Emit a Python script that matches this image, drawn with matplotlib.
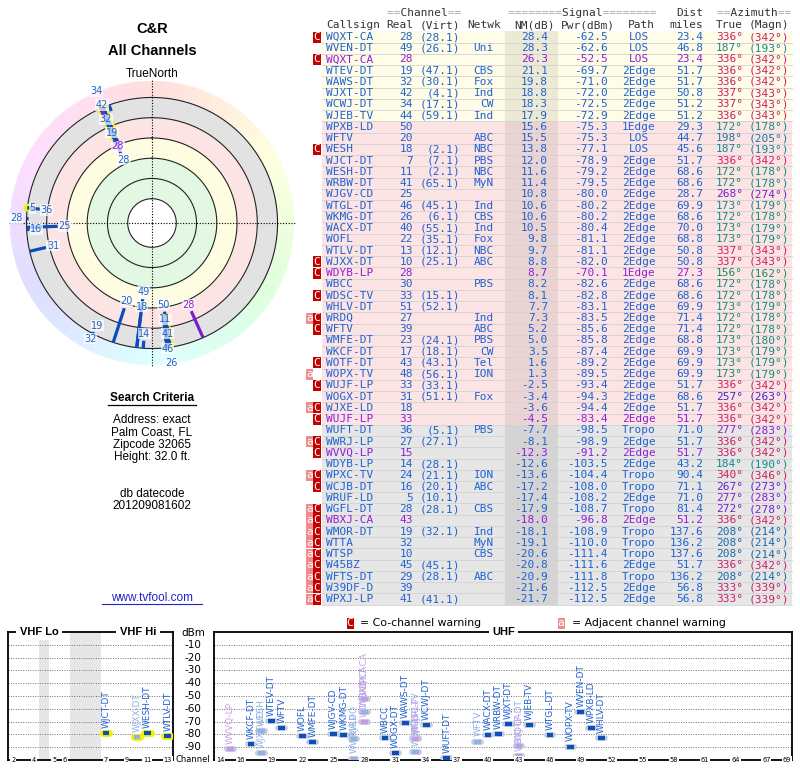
import colorsys

import numpy as np
import matplotlib

matplotlib.use("Agg")
import matplotlib.pyplot as plt
from matplotlib.patches import Rectangle

W, H = 800, 768

callsigns = ["WQXT-CA", "WVEN-DT", "WQXT-CA", "WTEV-DT", "WAWS-DT", "WJXT-DT", "WCWJ-DT", "WJEB-TV",
             "WPXB-LD", "WFTV", "WESH", "WJCT-DT", "WESH-DT", "WRBW-DT", "WJGV-CD", "WTGL-DT",
             "WKMG-DT", "WACX-DT", "WOFL", "WTLV-DT", "WJXX-DT", "WDYB-LP", "WBCC", "WDSC-TV",
             "WHLV-DT", "WRDQ", "WFTV", "WMFE-DT", "WKCF-DT", "WOTF-DT", "WOPX-TV", "WUJF-LP",
             "WOGX-DT", "WJXE-LD", "WUJF-LP", "WUFT-DT", "WWRJ-LP", "WVVQ-LP", "WDYB-LP", "WPXC-TV",
             "WCJB-DT", "WRUF-LD", "WGFL-DT", "WBXJ-CA", "WMOR-DT", "WTTA", "WTSP", "W45BZ",
             "WFTS-DT", "W39DF-D", "WPXJ-LP"]
real_ch = [28, 49, 28, 19, 32, 42, 34, 44,
           50, 20, 18, 7, 11, 41, 25, 46,
           26, 40, 22, 13, 10, 28, 30, 33,
           51, 27, 39, 23, 17, 43, 48, 33,
           31, 18, 33, 36, 27, 15, 14, 24,
           16, 5, 28, 43, 19, 32, 10, 45,
           29, 39, 41]
virt_ch = ["28.1", "26.1", "", "47.1", "30.1", "4.1", "17.1", "59.1",
           "", "", "2.1", "7.1", "2.1", "65.1", "", "45.1",
           "6.1", "55.1", "35.1", "12.1", "25.1", "", "", "15.1",
           "52.1", "", "", "24.1", "18.1", "43.1", "56.1", "33.1",
           "51.1", "", "", "5.1", "27.1", "", "28.1", "21.1",
           "20.1", "10.1", "28.1", "", "32.1", "", "", "45.1",
           "28.1", "", "41.1"]
networks = ["", "Uni", "", "CBS", "Fox", "Ind", "CW", "Ind",
            "", "ABC", "NBC", "PBS", "NBC", "MyN", "", "Ind",
            "CBS", "Ind", "Fox", "NBC", "ABC", "", "PBS", "",
            "", "Ind", "ABC", "PBS", "CW", "Tel", "ION", "",
            "Fox", "", "", "PBS", "", "", "", "ION",
            "ABC", "", "CBS", "", "Ind", "MyN", "CBS", "",
            "ABC", "", ""]
nm_db = [28.4, 28.3, 26.3, 21.1, 19.8, 18.8, 18.3, 17.9,
         15.6, 15.5, 13.8, 12.0, 11.6, 11.4, 10.8, 10.6,
         10.6, 10.5, 9.8, 9.7, 8.8, 8.7, 8.2, 8.1,
         7.7, 7.3, 5.2, 5.0, 3.5, 1.6, 1.3, -2.5,
         -3.4, -3.6, -4.5, -7.7, -8.1, -12.3, -12.6, -13.6,
         -17.2, -17.4, -17.9, -18.0, -18.1, -19.1, -20.6, -20.8,
         -20.9, -21.6, -21.7]
pwr_dbm = [-62.5, -62.6, -52.5, -69.7, -71.0, -72.0, -72.5, -72.9,
           -75.3, -75.3, -77.1, -78.9, -79.2, -79.5, -80.0, -80.2,
           -80.2, -80.4, -81.1, -81.1, -82.0, -70.1, -82.6, -82.8,
           -83.1, -83.5, -85.6, -85.8, -87.4, -89.2, -89.5, -93.4,
           -94.3, -94.4, -83.4, -98.5, -98.9, -91.2, -103.5, -104.4,
           -108.0, -108.2, -108.7, -96.8, -108.9, -110.0, -111.4, -111.6,
           -111.8, -112.5, -112.5]
paths = ["LOS", "LOS", "LOS", "2Edge", "2Edge", "2Edge", "2Edge", "2Edge",
         "1Edge", "LOS", "LOS", "2Edge", "2Edge", "2Edge", "2Edge", "2Edge",
         "2Edge", "2Edge", "2Edge", "2Edge", "2Edge", "1Edge", "2Edge", "2Edge",
         "2Edge", "2Edge", "2Edge", "2Edge", "2Edge", "2Edge", "2Edge", "2Edge",
         "2Edge", "2Edge", "2Edge", "Tropo", "2Edge", "2Edge", "2Edge", "Tropo",
         "Tropo", "2Edge", "Tropo", "2Edge", "Tropo", "Tropo", "Tropo", "2Edge",
         "Tropo", "2Edge", "2Edge"]
dist_mi = [23.4, 46.8, 23.4, 51.7, 51.7, 50.8, 51.2, 51.2,
           29.3, 44.7, 45.6, 51.7, 68.6, 68.6, 28.7, 69.9,
           68.6, 70.0, 68.8, 50.8, 50.8, 27.3, 68.6, 68.6,
           69.9, 71.4, 71.4, 68.8, 69.9, 69.9, 69.9, 51.7,
           68.6, 51.7, 51.7, 71.0, 51.7, 51.7, 43.2, 90.4,
           71.1, 71.0, 81.4, 51.2, 137.6, 136.2, 137.6, 51.7,
           136.2, 56.8, 56.8]
az_true = [336, 187, 336, 336, 336, 337, 337, 336,
           172, 198, 187, 336, 172, 172, 268, 173,
           172, 173, 173, 337, 337, 156, 172, 172,
           173, 172, 172, 173, 173, 173, 173, 336,
           257, 336, 336, 277, 336, 336, 184, 340,
           267, 277, 272, 336, 208, 208, 208, 336,
           208, 333, 333]
az_magn = [342, 193, 342, 342, 342, 343, 343, 343,
           178, 205, 193, 342, 178, 178, 274, 179,
           178, 179, 179, 343, 343, 162, 178, 178,
           179, 178, 178, 180, 179, 179, 179, 342,
           263, 342, 342, 283, 342, 342, 190, 346,
           273, 283, 278, 342, 214, 214, 214, 342,
           214, 339, 339]
warnings = ["C", "", "C", "", "", "", "", "",
            "", "", "C", "", "", "", "", "",
            "", "", "", "", "C", "C", "", "C",
            "", "aC", "C", "", "", "C", "a", "C",
            "", "aC", "C", "", "aC", "C", "", "aC",
            "C", "", "aC", "aC", "aC", "aC", "aC", "aC",
            "aC", "aC", "aC"]
# rows the report prints in purple
purple_rows = [2, 21, 34, 37, 43]

search_lines = ["Address: exact", "Palm Coast, FL", "Zipcode 32065", "Height: 32.0 ft."]
datecode = "201209081602"

vhf_ticks = [2, 4, 5, 6, 7, 9, 11, 13]
uhf_ticks = [14, 16] + list(range(19, 68, 3)) + [69]
dbm_ticks = list(range(-10, -100, -10))

BLUE = "#1f62d2"
PURPLE = "#8f1fd6"
SANS = "Liberation Sans"
MONO = "DejaVu Sans Mono"


def px(x, y):
    return x / W, 1 - y / H


def az_colour(az, sat=0.85):
    r, g, b = colorsys.hsv_to_rgb(az / 360.0, sat, 1.0)
    v = 0.85 - 0.3 * g
    return (r * v, g * v, b * v)


def row_colour(nm):
    if nm >= 17:
        return np.array([1.0, 0.992, 0.905])
    if nm >= -5:
        return np.array([0.992, 0.895, 0.895])
    return np.array([0.9, 0.9, 0.9])


fig = plt.figure(figsize=(W / 100, H / 100), dpi=100)

# full-figure canvas in pixel units for the table and loose text
canvas = fig.add_axes([0, 0, 1, 1])
canvas.set_xlim(0, W)
canvas.set_ylim(H, 0)
canvas.axis("off")

# ---- titles / search criteria ----
canvas.text(152, 29, "C&R", ha="center", va="center", family=SANS, fontsize=10.5, weight="bold")
canvas.text(152, 51, "All Channels", ha="center", va="center", family=SANS, fontsize=10.5, weight="bold")
canvas.text(152, 74, "TrueNorth", ha="center", va="center", family=SANS, fontsize=8.5)
canvas.text(142, 89, "N", ha="center", va="center", family=SANS, fontsize=8.5, color="#e01010")

canvas.text(152, 398, "Search Criteria", ha="center", va="center", family=SANS, fontsize=8.5, weight="bold")
canvas.plot([108, 196], [405, 405], color="black", lw=0.9)
for k, line in enumerate(search_lines):
    canvas.text(152, 420 + k * 12.3, line, ha="center", va="center", family=SANS, fontsize=8.5)
canvas.text(152, 494, "db datecode", ha="center", va="center", family=SANS, fontsize=8.5)
canvas.text(152, 506, datecode, ha="center", va="center", family=SANS, fontsize=8.5)
canvas.text(152, 598, "www.tvfool.com", ha="center", va="center", family=SANS, fontsize=8.5, color="#2323c8")
canvas.plot([102, 202], [604, 604], color="#2323c8", lw=0.8)

# ---- table ----
row_h = 11.24
y0 = 37
hdr = "#333333"
eq = "#a8a8a8"
for x, eqs, word in [(387, "==       ==", "  Channel  "),
                     (508, "========      ========", "        Signal        "),
                     (717, "==       ==", "  Azimuth  ")]:
    canvas.text(x, 13, eqs, ha="left", va="center", family=MONO, fontsize=8, color=eq)
    canvas.text(x, 13, word, ha="left", va="center", family=MONO, fontsize=8, color=hdr)
canvas.text(703, 13, "Dist", ha="right", va="center", family=MONO, fontsize=8, color=hdr)
canvas.text(326, 25, "Callsign", ha="left", va="center", family=MONO, fontsize=8, color=hdr)
for x, word in [(413, "Real"), (460, "(Virt)"), (501, "Netwk"), (555, "NM(dB)"),
                (615, "Pwr(dBm)"), (655, "Path"), (703, "miles"), (743, "True"), (789, "(Magn)")]:
    canvas.text(x, 25, word, ha="right", va="center", family=MONO, fontsize=8, color=hdr)

for i, call in enumerate(callsigns):
    y = y0 + i * row_h
    bg = row_colour(nm_db[i])
    canvas.add_patch(Rectangle((322, y - row_h / 2), 470, row_h, fc=bg, ec="none"))
    canvas.add_patch(Rectangle((505, y - row_h / 2), 53, row_h, fc=bg * 0.925, ec="none"))
    canvas.plot([322, 792], [y + row_h / 2] * 2, color="#d2d2d2", lw=0.6)

    col = PURPLE if i in purple_rows else BLUE
    t = dict(va="center", family=MONO, fontsize=8, color=col)
    canvas.text(326, y, call, ha="left", **t)
    canvas.text(413, y, str(real_ch[i]), ha="right", **t)
    if virt_ch[i]:
        canvas.text(460, y, f"({virt_ch[i]})", ha="right", **t)
    canvas.text(494, y, networks[i], ha="right", **t)
    canvas.text(548, y, f"{nm_db[i]:.1f}", ha="right", **t)
    canvas.text(608, y, f"{pwr_dbm[i]:.1f}", ha="right", **t)
    canvas.text(639, y, paths[i], ha="center", **t)
    canvas.text(703, y, f"{dist_mi[i]:.1f}", ha="right", **t)
    azc = az_colour(az_true[i])
    canvas.text(743, y, f"{az_true[i]}°", ha="right", va="center", family=MONO, fontsize=8, color=azc)
    canvas.text(789, y, f"({az_magn[i]}°)", ha="right", va="center", family=MONO, fontsize=8, color=azc)

    if "C" in warnings[i]:
        canvas.add_patch(Rectangle((313, y - 5.5), 7.5, 11, fc="#c40000", ec="none"))
        canvas.text(316.8, y, "C", ha="center", va="center", family=MONO, fontsize=8, color="white")
    if "a" in warnings[i]:
        canvas.add_patch(Rectangle((305.5, y - 5.5), 7.5, 11, fc="#f08c8c", ec="none"))
        canvas.text(309.3, y, "a", ha="center", va="center", family=MONO, fontsize=8, color="white")

# ---- legend for warning flags ----
canvas.add_patch(Rectangle((346.5, 618), 7, 11, fc="#c40000", ec="none"))
canvas.text(350, 623.5, "C", ha="center", va="center", family=MONO, fontsize=8, color="white")
canvas.text(360, 623.5, "= Co-channel warning", ha="left", va="center", fontsize=7.8)
canvas.add_patch(Rectangle((557.5, 618), 7, 11, fc="#f08c8c", ec="none"))
canvas.text(561, 623.5, "a", ha="center", va="center", family=MONO, fontsize=8, color="white")
canvas.text(572, 623.5, "= Adjacent channel warning", ha="left", va="center", fontsize=7.8)

# ---- polar plot ----
R_IN, R_OUT = 104, -37.5
rad_px = (R_IN - R_OUT) * 1.0125
cx, cy = 152, 223
pax = fig.add_axes([(cx - rad_px) / W, (H - cy - rad_px) / H, 2 * rad_px / W, 2 * rad_px / H],
                   projection="polar")
pax.set_facecolor("none")
pax.set_theta_zero_location("N")
pax.set_theta_direction(-1)
pax.set_ylim(R_IN, R_OUT)
pax.grid(False)
pax.set_xticks([])
pax.set_yticks([])
pax.spines["polar"].set_visible(False)

full = np.linspace(0, 2 * np.pi, 361)
n_sec = 90
sec = np.arange(n_sec) * 2 * np.pi / n_sec
ring_cols = [colorsys.hsv_to_rgb(np.degrees(s) / 360.0, 0.13, 1.0) for s in sec]
pax.bar(sec, -16, width=2 * np.pi / n_sec, bottom=-20, color=ring_cols, edgecolor=ring_cols, lw=0.5)
for lo, hi, c in [(-20, 0, "#e2e2e2"), (0, 20, "#fde4e4"), (20, 40, "#fefde2"),
                  (40, 80, "#e2f8e2"), (80, R_IN, "white")]:
    pax.fill_between(full, lo, hi, color=c, lw=0)
for v in [-20, 0, 20, 40, 60, 80]:
    pax.plot(full, np.full_like(full, v), color="#222222", lw=0.8)
for a in [0, 0.5 * np.pi, np.pi, 1.5 * np.pi]:
    pax.plot([a, a], [R_IN, R_OUT], color="black", lw=0.8, ls=(0, (1, 1.5)), clip_on=False)

shown = [i for i in range(len(callsigns)) if nm_db[i] >= -20]
for i in shown:
    if real_ch[i] <= 13:
        th = np.radians(az_true[i])
        pax.plot([th, th], [-20, nm_db[i]], color="#f5f000", lw=5.5, solid_capstyle="round")
for i in shown:
    th = np.radians(az_true[i])
    col = "#7a1fd0" if i in purple_rows else "#0a4cc0"
    pax.plot([th, th], [-20, nm_db[i]], color=col, lw=2.3, solid_capstyle="butt")

# channel labels: start just inside the tip, push outward past collisions
placed = []
for i in sorted(shown, key=lambda k: -nm_db[k]):
    th = np.radians(az_true[i])
    lab = str(real_ch[i])
    w, h = 6 * len(lab) + 1, 11
    r = nm_db[i] + 7
    while r > -41:
        qx, qy = pax.transData.transform((th, r))
        hit = [p for p in placed if abs(p[0] - qx) < (p[2] + w) / 2 and abs(p[1] - qy) < (p[3] + h) / 2]
        if not hit:
            break
        r = min(p[4] for p in hit) - 14.5
    else:
        continue
    placed.append((qx, qy, w, h, r))
    pax.text(th, r, lab, ha="center", va="center", fontsize=7, clip_on=False,
             color=PURPLE if i in purple_rows else BLUE,
             bbox=dict(fc="white", ec="none", alpha=0.7, pad=0.4), zorder=5)

# ---- bottom spectrum panels ----
vhf_slot = {2: 0, 3: 1, 4: 2, 5: 4, 6: 5, 7: 9, 8: 10, 9: 11, 10: 12, 11: 13, 12: 14, 13: 15}
ax_v = fig.add_axes([px(8, 760)[0], px(8, 760)[1], 165 / W, 128 / H])
ax_u = fig.add_axes([px(214, 760)[0], px(214, 760)[1], 578 / W, 128 / H])
ax_v.set_xlim(-0.5, 15.5)
ax_u.set_xlim(13.42, 69.48)
for ax in (ax_v, ax_u):
    ax.set_ylim(-100, 0)
    ax.set_yticks(dbm_ticks)
    ax.set_xticks([])
    ax.yaxis.grid(True, color="#707070", lw=0.7, ls=(0, (1, 1.5)))
    ax.tick_params(left=False, labelleft=False, bottom=False, labelbottom=False)
    for s in ax.spines.values():
        s.set_linewidth(1.3)

ax_v.axvspan(2.5, 3.5, color="#e6e6e6", lw=0, zorder=0)
ax_v.axvspan(5.5, 8.5, color="#e6e6e6", lw=0, zorder=0)

title_kw = dict(ha="center", va="center", fontsize=8, family=SANS, weight="bold", clip_on=False,
                bbox=dict(fc="white", ec="none", pad=2.5), zorder=4)
ax_v.text(2.5, 0, "VHF Lo", **title_kw)
ax_v.text(12.1, 0, "VHF Hi", **title_kw)
ax_u.text(41.5, 0, "UHF", **title_kw)

tick_kw = dict(ha="center", va="center", fontsize=4.8, clip_on=False,
               bbox=dict(fc="white", ec="none", pad=0.6), zorder=4)
for c in vhf_ticks:
    ax_v.text(vhf_slot[c], -100, str(c), **tick_kw)
for c in uhf_ticks:
    ax_u.text(c, -100, str(c), **tick_kw)

ytr = ax_v.get_yaxis_transform()
xl = (193 - 8) / 165
ax_v.text(xl, -1, "dBm", transform=ytr, ha="center", va="center", fontsize=7.5, clip_on=False)
for v in dbm_ticks:
    ax_v.text(xl, v, str(v), transform=ytr, ha="center", va="center", fontsize=7.5, clip_on=False)
ax_v.text(xl, -100, "Channel", transform=ytr, ha="center", va="center", fontsize=6, clip_on=False)

for i, call in enumerate(callsigns):
    if pwr_dbm[i] < -100:
        continue
    ch = real_ch[i]
    ax = ax_v if ch <= 13 else ax_u
    x = vhf_slot[ch] if ch <= 13 else ch
    faded = "C" in warnings[i]
    if i in purple_rows:
        bar_c, lab_c = ("#c49ae8", "#c9a0ea") if faded else ("#8a30d8", "#9a40e0")
    else:
        bar_c, lab_c = ("#8eb2e6", "#8fb0e8") if faded else ("#0b4fba", BLUE)
    halo = "#f2ee00" if ch <= 13 else "#c4ccda"
    ax.plot([x - 0.33, x + 0.33], [pwr_dbm[i]] * 2, color=halo, lw=5 if ch <= 13 else 4.2,
            solid_capstyle="round", zorder=3)
    ax.plot([x - 0.33, x + 0.33], [pwr_dbm[i]] * 2, color=bar_c, lw=3, solid_capstyle="butt", zorder=3)
    ax.text(x, pwr_dbm[i] + 4, call, rotation=90, ha="center", va="bottom", fontsize=6.5,
            color=lab_c, zorder=3)

fig.savefig("out.png", dpi=100)
